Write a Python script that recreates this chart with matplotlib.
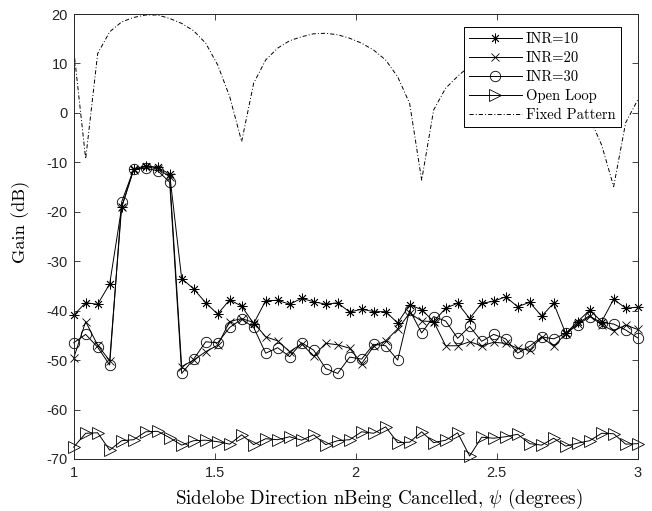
import numpy as np
import matplotlib
matplotlib.use("Agg")
import matplotlib.pyplot as plt

plt.rcParams['axes.unicode_minus'] = False
plt.rcParams['mathtext.fontset'] = 'cm'
plt.rcParams['lines.scale_dashes'] = False

# sidelobe direction grid (degrees), 48 samples from 1 to 3
psi = np.linspace(1, 3, 48)

inr10 = [-40.9, -38.4, -38.7, -34.6, -19.1, -11.4, -10.7, -11.0, -12.4, -33.5, -35.6, -38.4, -40.7, -37.8, -39.1, -42.6,
         -38.0, -37.9, -38.7, -37.5, -38.2, -38.7, -38.4, -40.3, -39.7, -40.2, -40.2, -42.5, -38.8, -39.8, -42.2, -39.5,
         -38.5, -41.6, -38.5, -38.1, -37.2, -39.2, -38.3, -41.1, -38.5, -44.6, -42.2, -39.9, -42.2, -37.7, -39.5, -39.3]

inr20 = [-49.6, -42.2, -47.0, -50.1, -19.0, -11.5, -10.9, -11.3, -12.9, -51.3, -50.0, -48.3, -47.0, -42.2, -41.6, -42.4,
         -45.3, -46.1, -48.3, -46.7, -49.2, -46.6, -46.9, -47.6, -50.7, -47.2, -46.1, -43.7, -40.5, -42.1, -42.2, -47.1,
         -47.1, -46.3, -47.1, -46.4, -46.6, -47.6, -48.0, -45.3, -47.2, -44.7, -42.6, -41.0, -42.9, -44.1, -42.9, -43.8]

inr30 = [-46.5, -44.8, -47.4, -51.0, -18.0, -11.4, -11.2, -11.7, -14.0, -52.7, -49.8, -46.3, -46.5, -43.4, -41.7, -43.4,
         -48.6, -47.5, -49.3, -46.5, -48.0, -51.7, -52.7, -49.4, -49.8, -46.8, -47.1, -50.0, -39.9, -44.5, -41.2, -42.1,
         -45.6, -43.2, -46.2, -44.8, -45.7, -48.6, -47.2, -45.3, -45.7, -44.6, -42.9, -41.2, -42.4, -42.7, -43.9, -45.5]

open_loop = [-67.6, -64.8, -64.7, -68.2, -66.3, -66.1, -64.5, -64.4, -65.7, -67.2, -66.3, -66.2, -66.5, -67.0, -65.1, -67.1,
             -65.9, -66.1, -65.5, -66.2, -65.1, -67.1, -66.3, -66.1, -64.5, -64.8, -63.5, -66.7, -66.6, -64.5, -66.7, -66.2,
             -64.7, -69.4, -65.6, -65.8, -65.5, -65.0, -66.9, -67.2, -65.8, -67.4, -66.8, -66.3, -64.8, -64.9, -67.0, -66.9]

fixed_pattern = [12.9, -9.3, 12.0, 16.4, 18.4, 19.3, 19.8, 19.8, 19.1, 18.1, 16.6, 14.1, 9.7, 3.3, -5.8, 6.0,
                 10.7, 13.1, 14.6, 15.4, 16.0, 16.1, 15.8, 15.1, 14.1, 12.7, 10.7, 7.3, 1.9, -13.6, 0.6, 5.0,
                 7.4, 9.5, 11.0, 12.0, 12.6, 12.8, 12.6, 11.8, 10.4, 8.2, 4.8, -1.0, -6.5, -14.9, -2.0, 2.6]

fig = plt.figure(figsize=(6.52, 5.11), dpi=100)
ax = fig.add_axes([0.113, 0.1018, 0.865, 0.8708])

lw = 0.7
common = dict(color='k', lw=lw, mew=0.6, mfc='none', mec='k', clip_on=False)
ax.plot(psi, inr10, marker=(8, 2, 0), ms=7, label='INR=10', **common)
ax.plot(psi, inr20, marker='x', ms=6, label='INR=20', **common)
ax.plot(psi, inr30, marker='o', ms=7.5, label='INR=30', **common)
ax.plot(psi, open_loop, marker='>', ms=8, label='Open Loop', **common)
ax.plot(psi, fixed_pattern, color='k', lw=lw, dashes=(3, 1.5, 0.7, 1.5), label='Fixed Pattern')

ax.set_xlim(1, 3)
ax.set_ylim(-70, 20)
ax.set_xticks([1, 1.5, 2, 2.5, 3])
ax.set_xticklabels(['1', '1.5', '2', '2.5', '3'])
ax.set_yticks(np.arange(-70, 21, 10))

for sp in ax.spines.values():
    sp.set_color('#262626')
    sp.set_linewidth(0.7)
ax.tick_params(direction='in', top=True, right=True, length=4, width=0.6,
               colors='#262626', labelsize=10.5)
ax.tick_params(axis='x', pad=5)
ax.tick_params(axis='y', pad=4)
for lab in ax.get_xticklabels() + ax.get_yticklabels():
    lab.set_fontfamily('Liberation Sans')

ax.set_xlabel(r'Sidelobe Direction nBeing Cancelled, $\psi$ (degrees)',
              fontfamily='cmr10', fontsize=13.7)
ax.set_ylabel('Gain (dB)', fontfamily='cmr10', fontsize=13.2)
ax.xaxis.set_label_coords(0.541, -0.062)
ax.yaxis.set_label_coords(-0.078, 0.533)

leg = ax.legend(loc='upper right', bbox_to_anchor=(0.97, 0.97), numpoints=1,
                handlelength=3.6, handletextpad=0.3, labelspacing=0.35,
                borderpad=0.35, borderaxespad=0.0, fancybox=False, framealpha=1,
                prop={'family': 'cmr10', 'size': 10.5})
leg.get_frame().set_edgecolor('k')
leg.get_frame().set_linewidth(0.7)

fig.savefig('out.png', dpi=100)
